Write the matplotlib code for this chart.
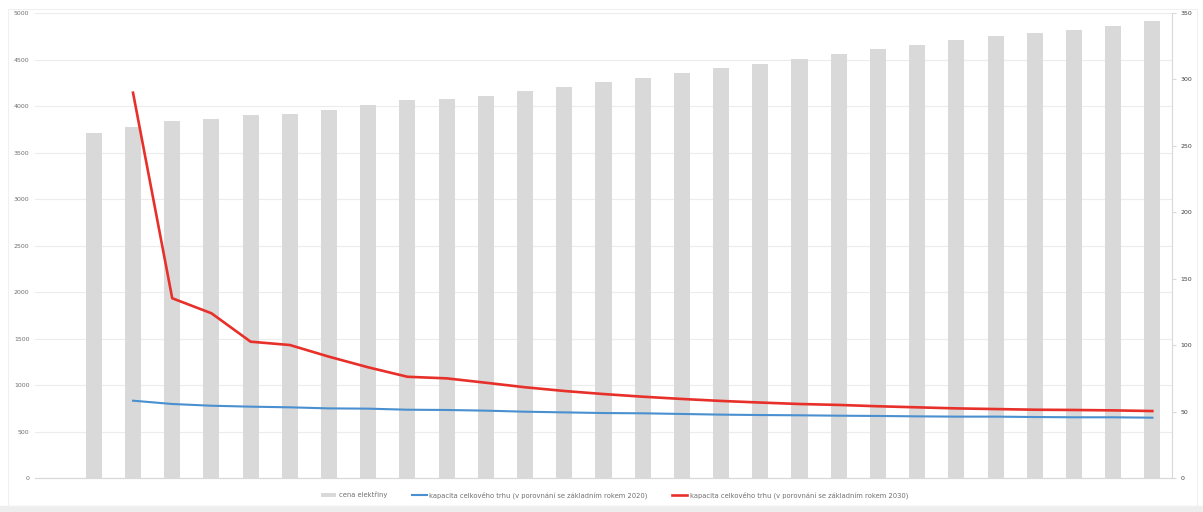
import numpy as np
import matplotlib
matplotlib.use("Agg")
import matplotlib.pyplot as plt
from matplotlib.patches import Rectangle

nan = np.nan

# 29 categories, the first one is empty
categories = list(range(29))

cena = [nan, 3713, 3774, 3842, 3864, 3907, 3911, 3957, 4011, 4065, 4072, 4108,
        4161, 4208, 4261, 4305, 4358, 4409, 4452, 4509, 4563, 4610, 4656, 4710,
        4756, 4785, 4814, 4860, 4911]

kapacita_a = [nan, nan, 58.2, 55.7, 54.4, 53.7, 53.2, 52.4, 52.2, 51.4, 51.2,
              50.7, 49.9, 49.4, 48.9, 48.7, 48.2, 47.7, 47.4, 47.2, 46.9, 46.7,
              46.4, 46.2, 46.2, 45.9, 45.7, 45.7, 45.4]

kapacita_b = [nan, nan, 290, 135.3, 124, 102.6, 100.1, 91.3, 83.3, 76.2, 75,
              71.7, 68.3, 65.5, 63.2, 61.2, 59.5, 58, 56.8, 55.7, 55, 54, 53.2,
              52.4, 51.9, 51.4, 51.2, 50.9, 50.4]

label_bar = "cena elektřiny"
label_a = "kapacita celkového trhu (v porovnání se základním rokem 2020)"
label_b = "kapacita celkového trhu (v porovnání se základním rokem 2030)"

fig = plt.figure(figsize=(12.03, 5.12), dpi=100)
ax = fig.add_axes([0.0291, 0.0664, 0.9451, 0.9082])
ax2 = ax.twinx()

bars = ax.bar(categories, cena, width=0.41, color="#d9d9d9", label=label_bar, zorder=2)
ax.set_xlim(-0.5, 28.5)
ax.set_ylim(0, 5000)
ax.set_yticks(np.arange(0, 5001, 500))
ax.grid(axis="y", color="#ececec", linewidth=0.8, zorder=0)
ax.set_axisbelow(True)
ax.set_xticks([])

l1, = ax2.plot(categories, kapacita_a, color="#4a8fcf", linewidth=1.5, label=label_a)
l2, = ax2.plot(categories, kapacita_b, color="#e8302a", linewidth=1.9, label=label_b)
ax2.set_ylim(0, 350)
ax2.set_yticks(np.arange(0, 351, 50))

for a in (ax, ax2):
    for s in ("top", "left"):
        a.spines[s].set_visible(False)
    a.spines["bottom"].set_color("#d9d9d9")
    a.spines["right"].set_visible(False)
ax2.spines["right"].set_visible(True)
ax2.spines["right"].set_color("#d9d9d9")

ax.tick_params(axis="y", length=0, pad=4, labelsize=4.5, labelcolor="#707070")
ax2.tick_params(axis="y", length=3, color="#d9d9d9", pad=3, labelsize=4.5,
                labelcolor="#404040")

fig.legend(handles=[bars, l1, l2], loc="center", bbox_to_anchor=(0.511, 0.033),
           ncol=3, frameon=False, fontsize=4.9, labelcolor="#707070",
           handlelength=2.2, handleheight=0.5, columnspacing=3.6, handletextpad=0.4)

# thin frame and bottom strip around the chart area
fig.patches.append(Rectangle((0, 0), 1, 0.012, transform=fig.transFigure,
                             color="#eeeeee", zorder=-1))
fig.patches.append(Rectangle((0.0066, 0.012), 0.9885, 0.97, transform=fig.transFigure,
                             fill=False, edgecolor="#f0f0f0", linewidth=0.8))

fig.savefig("out.png", dpi=100, facecolor="white")
